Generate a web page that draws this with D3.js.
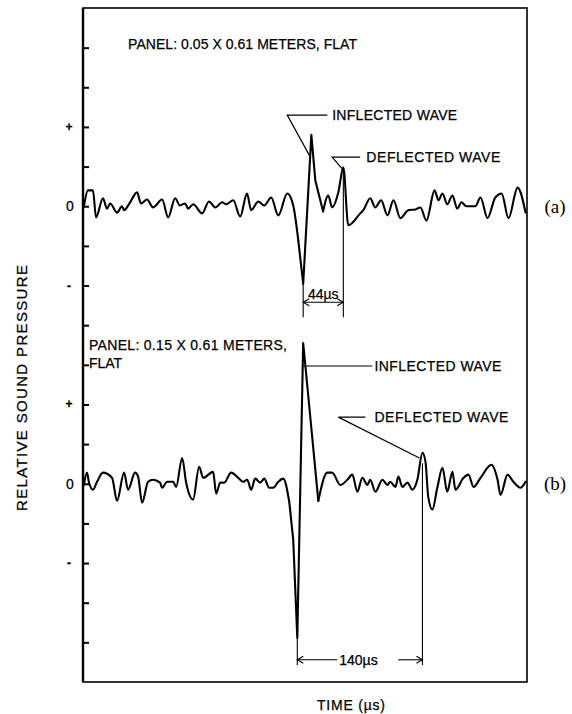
<!DOCTYPE html>
<html>
<head>
<meta charset="utf-8">
<script src="https://cdn.jsdelivr.net/npm/d3@7"></script>
<style>
  html, body { margin: 0; padding: 0; background: #fff; }
  svg { display: block; }
  text { font-family: "Liberation Sans", Arial, Helvetica, sans-serif; fill: #000; stroke: #000; stroke-width: 0.25px; }
</style>
</head>
<body>
<svg id="chart" width="572" height="714"></svg>
<script>
// ---------------- DATA ----------------
// Panel (a): 0.05 x 0.61 m  — time in µs, relative pressure in tick units
const timeA = [1, 5.5, 11, 14.4, 22, 26.5, 30, 37.6, 43, 45.3, 52, 59.7, 64, 70.7, 77.4, 87.3, 94, 101.7, 107, 112.7,
  116, 121.6, 131.5, 139, 146, 153.6, 158, 165.8, 173.5, 181, 185.6, 193.4, 200, 207.7, 215.5, 225.4, 232, 237.6, 243,
  252, 256.4, 265, 270.7, 275, 281.8, 287.3, 292.8, 306, 309.4, 317, 322.6, 329, 336, 342.6, 350.3, 359, 367, 372.4,
  379, 388, 392.3, 396.7, 402, 407.7, 413, 417.7, 423, 433, 438.7, 446.4, 455, 462, 469.6, 479.6, 488.4];
const valueA = [0.0, 0.4, 0.4, -0.28, 0.2, -0.06, 0.07, -0.16, 0.0, -0.1, 0.1, 0.35, 0.07, 0.17, -0.03, 0.17, -0.28, 0.2, 0.02, 0.07,
  -0.06, 0.05, -0.18, 0.12, -0.03, 0.1, 0.05, 0.15, -0.26, 0.32, -0.1, 0.12, 0.02, 0.22, -0.23, 0.32, 0.02, -0.86, -1.96,
  1.8, 0.65, -0.13, 0.27, -0.03, 0.35, 0.98, -0.48, -0.18, -0.1, 0.2, -0.03, 0.15, -0.23, 0.15, -0.3, -0.1, -0.08, -0.03,
  -0.36, 0.4, 0.15, 0.32, 0.05, 0.27, -0.06, 0.1, 0.0, 0.0, 0.22, -0.3, 0.22, 0.32, -0.3, 0.47, -0.16];

// Panel (b): 0.15 x 0.61 m
const timeB = [1, 4.4, 6.6, 11, 15.5, 22, 32, 37.6, 45.3, 49.7, 57.5, 60.8, 65.2, 71.8, 77.3, 85, 87.3, 92.8, 99.5, 102.8,
  109.4, 113.8, 121.5, 128.2, 132.6, 143.6, 147, 151.4, 155.8, 163.5, 171.3, 176.8, 181.2, 185.6, 190, 195.6, 200, 205.5,
  210, 215.5, 221, 227.6, 232, 236.5, 243, 259.7, 269.6, 275, 284, 291.7, 297.2, 302.8, 308.3, 313.8, 317, 322.7, 330.4,
  336, 339, 344.8, 348, 352.5, 358, 363.5, 369, 374.6, 378, 381, 385.6, 391, 396.7, 402, 407.7, 411, 420, 425.4, 431,
  438.7, 450.8, 457.5, 460.8, 468.5, 475, 483, 488.4];
const valueB = [-0.03, 0.28, 0.03, -0.15, 0.05, 0.28, 0.15, -0.43, 0.28, -0.15, 0.28, 0.18, -0.48, 0.05, 0.1, 0.03, -0.1, 0.05, 0.05, -0.08,
  0.65, 0.03, -0.4, 0.43, 0.15, 0.3, -0.25, 0.03, 0.03, 0.28, 0.15, 0.05, 0.1, -0.15, 0.13, 0.03, 0.13, -0.1,
  -0.1, 0.05, 0.13, -0.45, -1.41, -3.89, 3.55, -0.43, 0.28, 0.28, -0.03, 0.1, 0.23, -0.2, 0.15, -0.03, 0.1, -0.2, 0.1,
  -0.03, 0.05, -0.08, 0.18, -0.08, 0.03, -0.15, 0.1, 0.78, 0.55, -0.33, -0.65, -0.1, 0.4, -0.2, 0.3, -0.15, 0.15, 0.23, -0.08,
  0.15, 0.48, 0.1, -0.28, 0.23, 0.05, -0.1, 0.05];

// Time windows (µs) of the sharp main pulse, drawn with straight segments
const pulseA = [237.6, 265];
const pulseB = [227.6, 259.7];

// Axis ticks (tick index positions along the left axis) and labels per panel
const axisTicks = d3.range(0, 16);
const levelLabels = ["+", "0", "-"];
const levelValues = [2, 0, -2];

const panelTitles = [["PANEL: 0.05 X 0.61 METERS, FLAT"], ["PANEL: 0.15 X 0.61 METERS,", "FLAT"]];
const panelTags = ["(a)", "(b)"];
const waveNames = ["INFLECTED WAVE", "DEFLECTED WAVE"];
const intervals = ["44µs", "140µs"];
const intervalTimes = [[243, 287.3], [236.5, 374.6]];
const xTitle = "TIME (µs)";
const yTitle = "RELATIVE SOUND PRESSURE";

// ---------------- LAYOUT ----------------
const svg = d3.select("#chart");
const L = 83, R = 527, T = 8, B = 682;

const x = d3.scaleLinear().domain([0, 490]).range([L, R]);
const yAxis = d3.scaleLinear().domain([-1, 16]).range([T, B]);   // tick-index scale
const yA = d3.scaleLinear().domain([5, -12]).range([T, B]);      // zero at tick index 4
const yB = d3.scaleLinear().domain([12, -5]).range([T, B]);      // zero at tick index 11

// Frame
svg.append("rect").attr("x", L).attr("y", T).attr("width", R - L).attr("height", B - T)
  .attr("fill", "none").attr("stroke", "#000").attr("stroke-width", 1.6);
svg.append("line").attr("x1", L).attr("x2", L).attr("y1", T).attr("y2", B)
  .attr("stroke", "#000").attr("stroke-width", 2.4);

// Left axis ticks (inward)
const ax = svg.append("g").attr("transform", `translate(${L},0)`)
  .call(d3.axisRight(yAxis).tickValues(axisTicks).tickSize(6).tickFormat(""));
ax.select(".domain").remove();
ax.selectAll(".tick line").attr("stroke", "#000").attr("stroke-width", 2);

// Level labels
[yA, yB].forEach(ys => {
  levelLabels.forEach((lab, i) => {
    svg.append("text").attr("x", lab === "0" ? 70 : 69).attr("y", ys(levelValues[i]))
      .attr("text-anchor", "middle").attr("dominant-baseline", "central")
      .style("font-size", lab === "0" ? "14px" : "12px").style("font-weight", lab === "0" ? "normal" : "bold")
      .text(lab);
  });
});

// Traces: smooth noise, straight-edged main pulse
function drawTrace(times, values, ys, pulse) {
  const pts = d3.zip(times, values);
  const smooth = d3.line().x(d => x(d[0])).y(d => ys(d[1])).curve(d3.curveMonotoneX);
  const straight = d3.line().x(d => x(d[0])).y(d => ys(d[1]));
  const parts = [
    [pts.filter(d => d[0] <= pulse[0]), smooth],
    [pts.filter(d => d[0] >= pulse[0] && d[0] <= pulse[1]), straight],
    [pts.filter(d => d[0] >= pulse[1]), smooth]
  ];
  parts.forEach(([seg, gen]) => {
    svg.append("path").datum(seg).attr("d", gen)
      .attr("fill", "none").attr("stroke", "#000").attr("stroke-width", 2.1)
      .attr("stroke-linejoin", "round").attr("stroke-linecap", "round");
  });
}
drawTrace(timeA, valueA, yA, pulseA);
drawTrace(timeB, valueB, yB, pulseB);

// Panel titles
svg.append("text").attr("x", x(49.7)).attr("y", yA(4.1)).attr("dominant-baseline", "central")
  .style("font-size", "14px").attr("textLength", 229).text(panelTitles[0][0]);
svg.append("text").attr("x", x(6.6)).attr("y", yB(3.5)).attr("dominant-baseline", "central")
  .style("font-size", "14px").attr("textLength", 198).text(panelTitles[1][0]);
svg.append("text").attr("x", x(6.6)).attr("y", yB(3.05)).attr("dominant-baseline", "central")
  .style("font-size", "14px").text(panelTitles[1][1]);

// Panel tags
[[yA, 0], [yB, 1]].forEach(([ys, i]) => {
  svg.append("text").attr("x", 555).attr("y", ys(0)).attr("text-anchor", "middle").attr("dominant-baseline", "central")
    .style("font-family", "'Liberation Serif', 'Times New Roman', serif").style("font-size", "19px")
    .style("stroke-width", "0").text(panelTags[i]);
});

// Leader helper
function poly(pts, ys, w) {
  svg.append("path").attr("d", d3.line().x(d => x(d[0])).y(d => ys(d[1]))(pts))
    .attr("fill", "none").attr("stroke", "#000").attr("stroke-width", w || 1.2);
}
function label(t, v, ys, txt, len) {
  svg.append("text").attr("x", x(t)).attr("y", ys(v)).attr("dominant-baseline", "central")
    .style("font-size", "14px").attr("textLength", len).text(txt);
}

// Panel (a) annotations
poly([[249.7, 1.29], [225.4, 2.3], [269.6, 2.3]], yA);
label(275, 2.3, yA, waveNames[0], 125);
poly([[287.3, 0.91], [275, 1.24], [305.9, 1.24]], yA);
label(312.7, 1.24, yA, waveNames[1], 134);

// Panel (b) annotations
poly([[243, 2.97], [319.3, 2.97]], yB);
label(321.6, 2.97, yB, waveNames[0], 127);
poly([[371.3, 0.65], [281.8, 1.68], [311.6, 1.68]], yB);
label(321.6, 1.68, yB, waveNames[1], 134);

// Interval markers
function arrowHead(t, v, ys, dir) {
  const px = x(t), py = ys(v);
  svg.append("path").attr("d", `M${px + dir * 6},${py - 3.5}L${px},${py}L${px + dir * 6},${py + 3.5}`)
    .attr("fill", "none").attr("stroke", "#000").attr("stroke-width", 1.1);
}
// (a) 44µs
{
  const [t0, t1] = intervalTimes[0];
  poly([[t0, -1.96], [t0, -2.8]], yA, 1.1);
  poly([[t1, 0.98], [t1, -2.8]], yA, 1.1);
  poly([[t0, -2.42], [t1, -2.42]], yA, 1.1);
  arrowHead(t0, -2.42, yA, 1);
  arrowHead(t1, -2.42, yA, -1);
  svg.append("text").attr("x", x((t0 + t1) / 2)).attr("y", yA(-2.22)).attr("text-anchor", "middle")
    .attr("dominant-baseline", "central").style("font-size", "14px").text(intervals[0]);
}
// (b) 140µs
{
  const [t0, t1] = intervalTimes[1];
  poly([[t0, -3.89], [t0, -4.57]], yB, 1.1);
  poly([[t1, 0.52], [t1, -4.57]], yB, 1.1);
  poly([[t0, -4.44], [280.7, -4.44]], yB, 1.1);
  poly([[348, -4.44], [t1, -4.44]], yB, 1.1);
  arrowHead(t0, -4.44, yB, 1);
  arrowHead(t1, -4.44, yB, -1);
  svg.append("text").attr("x", x(304)).attr("y", yB(-4.44)).attr("text-anchor", "middle")
    .attr("dominant-baseline", "central").style("font-size", "14px").text(intervals[1]);
}

// Axis titles
svg.append("text").attr("x", 351).attr("y", 705).attr("text-anchor", "middle")
  .attr("dominant-baseline", "central").style("font-size", "14px").attr("textLength", 68).text(xTitle);
svg.append("text").attr("transform", "translate(21,388) rotate(-90)").attr("text-anchor", "middle")
  .attr("dominant-baseline", "central").style("font-size", "15px").attr("textLength", 246).text(yTitle);
</script>
</body>
</html>
